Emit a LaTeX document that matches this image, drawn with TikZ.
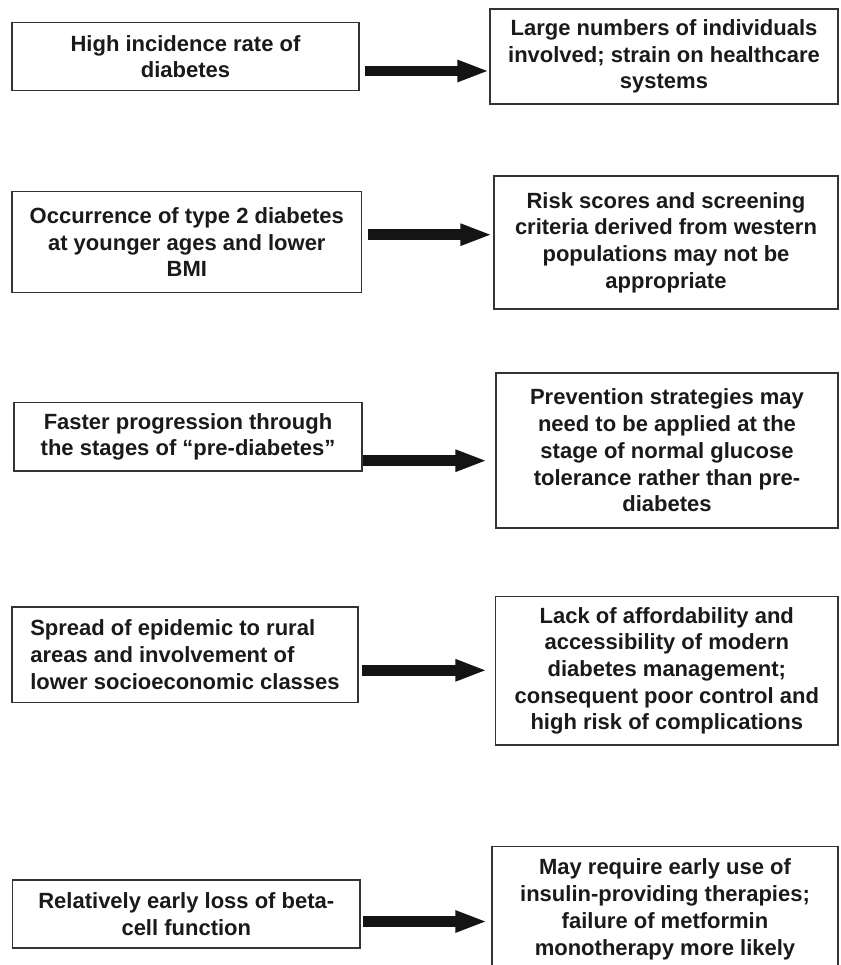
\documentclass[tikz,border=0pt]{standalone}
\usepackage{fontspec}
\setmainfont{Liberation Sans}
\usetikzlibrary{arrows.meta}
\definecolor{ink}{HTML}{1A1A1A}
\definecolor{edge}{HTML}{333333}
\definecolor{arrowc}{HTML}{141414}
\begin{document}
\begin{tikzpicture}[x=1pt,y=-1pt,
  box/.style={draw=edge, line width=1.3pt, fill=white, inner sep=0pt, align=center, text=ink,
    font=\fontsize{22pt}{26.7pt}\selectfont\bfseries},
  bigarrow/.style={draw=arrowc, line width=10.5pt, -{Triangle[length=32pt,width=20pt]}}]
\fill[white] (0,0) rectangle (840,965);
\useasboundingbox (0,0) rectangle (840,965);

% row 1
\node[box, minimum width=347pt, minimum height=68pt] (l1) at (185.5,56.7)
  {High incidence rate of\\diabetes};
\node[box, minimum width=348pt, minimum height=95pt] (r1) at (664,56.5)
  {Large numbers of individuals\\involved; strain on healthcare\\systems};
\draw[bigarrow] ([xshift=5pt,yshift=-14.3pt]l1.east) -- ([yshift=-14.3pt]l1.east -| r1.west);

% row 2
\node[box, minimum width=349.7pt, minimum height=101pt] (l2) at (186.8,242.2)
  {Occurrence of type 2 diabetes\\at younger ages and lower\\BMI};
\node[box, minimum width=344pt, minimum height=133pt] (r2) at (666,242.5)
  {Risk scores and screening\\criteria derived from western\\populations may not be\\appropriate};
\draw[bigarrow] ([xshift=5.3pt,yshift=7.5pt]l2.east) -- ([xshift=-1pt,yshift=7.5pt]l2.east -| r2.west);

% row 3
\node[box, minimum width=348pt, minimum height=68.3pt] (l3) at (188,436.8)
  {Faster progression through\\the stages of “pre-diabetes”};
\node[box, minimum width=342pt, minimum height=155pt] (r3) at (667,450.5)
  {Prevention strategies may\\need to be applied at the\\stage of normal glucose\\tolerance rather than pre-\\diabetes};
\draw[bigarrow] ([yshift=-23.9pt]l3.east) -- ([xshift=-8pt,yshift=-23.9pt]l3.east -| r3.west);

% row 4
\node[box, align=left, minimum width=346pt, minimum height=95.7pt] (l4) at (185,654.8)
  {Spread of epidemic to rural\\areas and involvement of\\lower socioeconomic classes};
\node[box, minimum width=342.3pt, minimum height=148.3pt] (r4) at (666.8,670.8)
  {Lack of affordability and\\accessibility of modern\\diabetes management;\\consequent poor control and\\high risk of complications};
\draw[bigarrow] ([xshift=3pt,yshift=-15.5pt]l4.east) -- ([xshift=-7.7pt,yshift=-15.5pt]l4.east -| r4.west);

% row 5
\node[box, minimum width=347.3pt, minimum height=68pt] (l5) at (186.3,914)
  {Relatively early loss of beta-\\cell function};
\node[box, minimum width=346pt, minimum height=125.3pt] (r5) at (665,909.3)
  {May require early use of\\insulin-providing therapies;\\failure of metformin\\monotherapy more likely};
\draw[bigarrow] ([xshift=2pt,yshift=-7.5pt]l5.east) -- ([xshift=-4pt,yshift=-7.5pt]l5.east -| r5.west);
\end{tikzpicture}
\end{document}
